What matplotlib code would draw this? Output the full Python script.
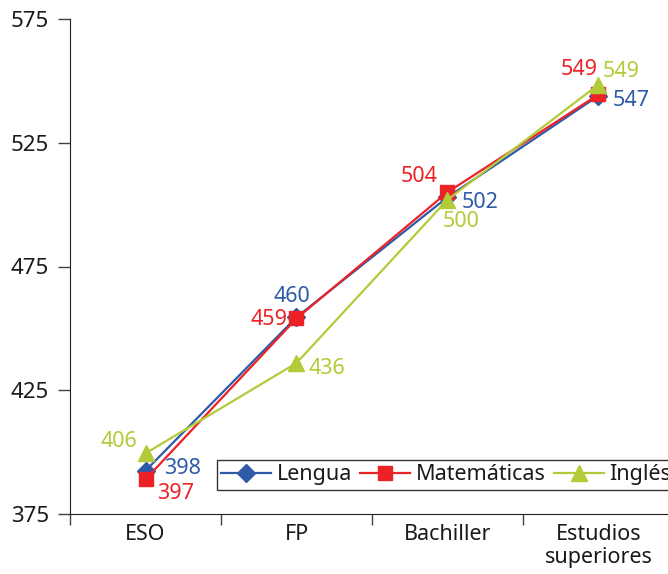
import matplotlib.pyplot as plt
import numpy as np

plt.rcParams['font.family'] = ['Noto Sans', 'DejaVu Sans']

# categorias y valores
categorias = ['ESO', 'FP', 'Bachiller', 'Estudios\nsuperiores']
lengua = [392.5, 454.5, 503, 544]
matematicas = [389, 454, 505, 544.5]
ingles = [399.5, 436, 502, 548.5]

# etiquetas de datos
lengua_lbl = ['398', '460', '502', '547']
matematicas_lbl = ['397', '459', '504', '549']
ingles_lbl = ['406', '436', '500', '549']

azul = '#2E5BA8'
rojo = '#EC2227'
verde = '#B3CB38'

fig = plt.figure(figsize=(6.68, 5.74), dpi=100)
ax = fig.add_axes([70 / 668, 1 - 514 / 574, 604 / 668, 495 / 574])

x = np.arange(len(categorias)) + 0.5
ax.plot(x, lengua, color=azul, lw=1.6, marker='D', ms=9, label='Lengua')
ax.plot(x, matematicas, color=rojo, lw=1.6, marker='s', ms=10.5, label='Matemáticas')
ax.plot(x, ingles, color=verde, lw=1.6, marker='^', ms=11, label='Inglés')

# posicion de cada etiqueta: (dx, dy en puntos, alineacion)
pos_lengua = [(13.7, 1.4, 'left'), (-3.6, 15, 'center'), (10, -3.6, 'left'), (10, -3.6, 'left')]
pos_mat = [(8, -10, 'left'), (-6.5, -0.7, 'right'), (-7, 11, 'right'), (-0.7, 18, 'right')]
pos_ing = [(-5.8, 8.6, 'right'), (8.6, -3.6, 'left'), (-3.6, -16, 'left'), (3, 9.4, 'left')]

def etiquetas(vals, lbls, posiciones, color):
    for xi, v, t, (dx, dy, ha) in zip(x, vals, lbls, posiciones):
        ax.annotate(t, (xi, v), xytext=(dx, dy), textcoords='offset points',
                    color=color, fontsize=15.5, ha=ha, va='center')

etiquetas(lengua, lengua_lbl, pos_lengua, azul)
etiquetas(matematicas, matematicas_lbl, pos_mat, rojo)
etiquetas(ingles, ingles_lbl, pos_ing, verde)

ax.set_xlim(0, 4)
ax.set_ylim(375, 575)
ax.set_yticks([375, 425, 475, 525, 575])
ax.set_xticks([0, 1, 2, 3, 4])
ax.set_xticklabels([])
ax.set_xticks(x, minor=True)
ax.set_xticklabels(categorias, minor=True, fontsize=15.5, linespacing=1.15, va='top',
                   color='#1a1a1a')
ax.tick_params(axis='x', which='minor', length=0, pad=7)
ax.tick_params(axis='x', which='major', length=8, width=1, color='#404040')
ax.tick_params(axis='y', length=9, width=1, color='#404040', labelsize=16,
               labelcolor='#1a1a1a', pad=6)

ax.spines['top'].set_visible(False)
ax.spines['right'].set_visible(False)
ax.spines['left'].set_color('#202020')
ax.spines['bottom'].set_color('#202020')

leg = ax.legend(loc='upper left', bbox_to_anchor=(217 / 668, 1 - 460 / 574),
                bbox_transform=fig.transFigure, ncol=3, fontsize=15.5,
                frameon=True, fancybox=False, edgecolor='black',
                handlelength=2.3, columnspacing=0.38, handletextpad=0.28,
                borderpad=0.2, borderaxespad=0)
leg.get_frame().set_linewidth(1)
for t in leg.get_texts():
    t.set_color('#1a1a1a')

fig.savefig('out.png', dpi=100)
